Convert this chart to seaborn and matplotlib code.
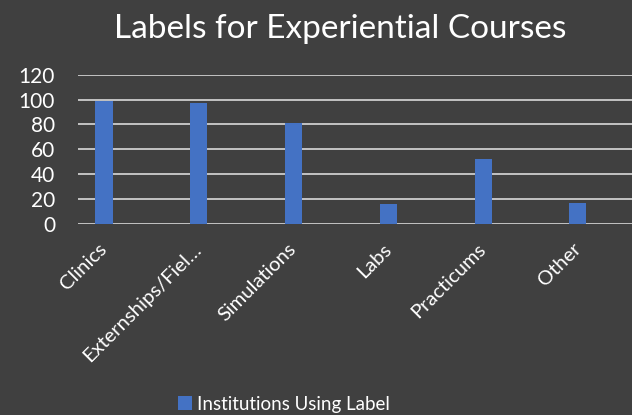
import matplotlib
matplotlib.use("Agg")
import matplotlib.pyplot as plt
import seaborn as sns
import pandas as pd

categories = ["Clinics", "Externships/Fiel…", "Simulations", "Labs", "Practicums", "Other"]
institutions = [99, 97, 81, 16, 52, 17]
series_name = "Institutions Using Label"
y_ticks = [0, 20, 40, 60, 80, 100, 120]

bg = "#404040"
bar_color = "#4472C4"
text_color = "#FFFFFF"
grid_color = "#D9D9D9"

sns.set_theme(style="dark")
plt.rcParams["font.family"] = ["Lato", "DejaVu Sans"]

df = pd.DataFrame({"label": categories, "count": institutions})

fig = plt.figure(figsize=(6.32, 4.15), dpi=100, facecolor=bg)
ax = fig.add_axes([78 / 632, 1 - 224 / 415, 1 - 78 / 632, (224 - 74.7) / 415])
ax.set_facecolor(bg)

sns.barplot(data=df, x="label", y="count", color=bar_color, width=0.18,
            saturation=1, linewidth=0, ax=ax, zorder=3, label=series_name)

ax.set_xlim(-0.274, 5.57)
ax.set_ylim(0, 120)
ax.set_yticks(y_ticks)
for t in y_ticks:
    ax.axhline(t, color=grid_color, lw=1.2, zorder=1)
ax.grid(False)
for s in ax.spines.values():
    s.set_visible(False)

ax.set_xlabel("")
ax.set_ylabel("")
ax.tick_params(axis="y", length=0, pad=16.5, labelsize=15, labelcolor=text_color)
ax.tick_params(axis="x", length=0, pad=16, labelsize=14.5, labelcolor=text_color)
for lbl in ax.get_yticklabels():
    lbl.set_horizontalalignment("right")
for lbl in ax.get_xticklabels():
    lbl.set_rotation(45)
    lbl.set_horizontalalignment("right")
    lbl.set_verticalalignment("center")
    lbl.set_rotation_mode("anchor")
    lbl.set_x(lbl.get_position()[0])

fig.text(340 / 632, 1 - 29 / 415, "Labels for Experiential Courses", ha="center",
         va="center", fontsize=24, color=text_color)

leg = ax.legend(loc="center", bbox_to_anchor=(284 / 632, 1 - 404 / 415),
                bbox_transform=fig.transFigure, frameon=False, fontsize=13.5,
                handlelength=0.75, handleheight=0.75, handletextpad=0.3)
for t in leg.get_texts():
    t.set_color(text_color)
for h in leg.legend_handles:
    h.set_linewidth(0)

fig.savefig("out.png", dpi=100, facecolor=bg)
